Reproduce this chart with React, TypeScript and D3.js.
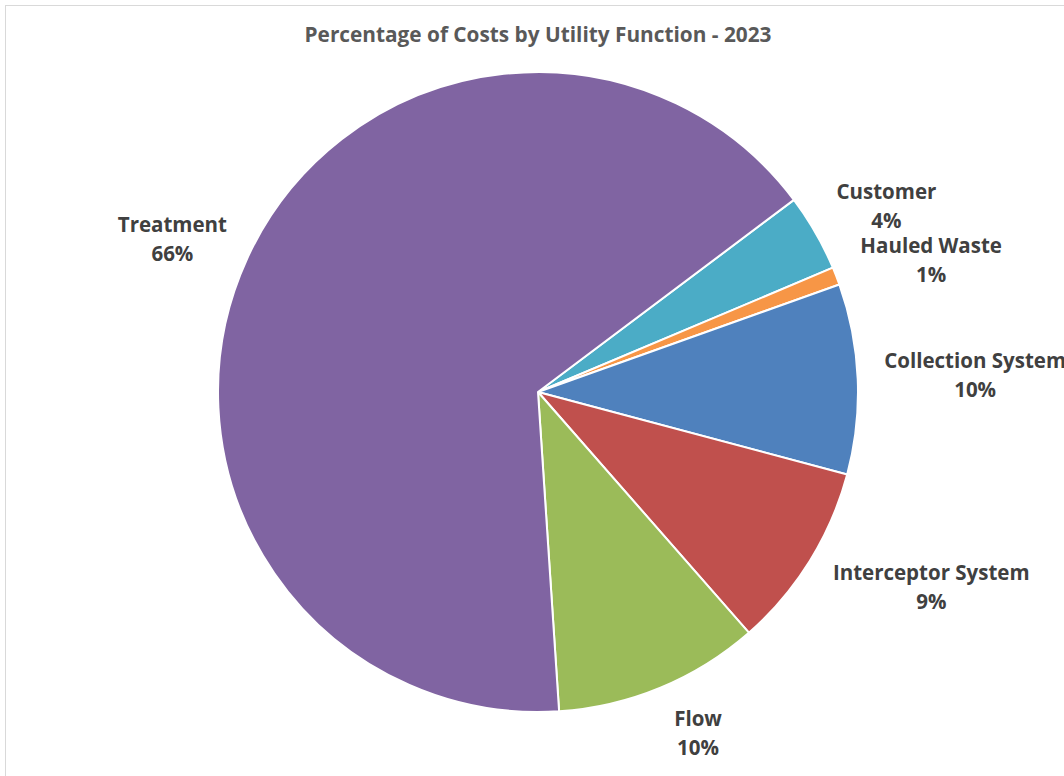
import React from "react";
import * as d3 from "d3";

const categories = ["Customer", "Hauled Waste", "Collection System", "Interceptor System", "Flow", "Treatment"];
const values = [3.9, 0.9, 9.6, 9.4, 10.4, 65.8];
const colors = ["#4BACC6", "#F79646", "#4F81BD", "#C0504D", "#9BBB59", "#8064A2"];
const title = "Percentage of Costs by Utility Function - 2023";

// layout-only label nudges (dx, dy) mimicking the spreadsheet's best-fit placement
const labelNudge: [number, number][] = [[12, 1], [11, 4], [0, -1], [17, -1], [20, -4], [-8, 4]];

const W = 1064;
const H = 776;
const cx = 538;
const cy = 392;
const R = 320;
const START_DEG = 53.1;

export default function App() {
  const pie = d3
    .pie<number>()
    .sort(null)
    .value((d) => d)
    .startAngle((START_DEG * Math.PI) / 180)
    .endAngle((START_DEG * Math.PI) / 180 + 2 * Math.PI);
  const arcs = pie(values);
  const arcGen = d3.arc<d3.PieArcDatum<number>>().innerRadius(0).outerRadius(R);
  const total = d3.sum(values);
  const fontSize = 20.5;
  const charW = 11;
  const gap = 24;

  return (
    <svg
      width={W}
      height={H}
      style={{ position: "absolute", left: 0, top: 0, background: "#fff" }}
      fontFamily="'Open Sans', Lato, sans-serif"
    >
      <rect x={0} y={0} width={W} height={H} fill="#fff" />
      <rect x={5.5} y={5.5} width={W + 20} height={H + 20} fill="#fff" stroke="#d9d9d9" strokeWidth={1} />
      <text x={cx} y={42} textAnchor="middle" fontSize={20.8} fontWeight={700} fill="#595959">
        {title}
      </text>
      <g transform={`translate(${cx},${cy})`}>
        {arcs.map((a, i) => (
          <path key={i} d={arcGen(a) || ""} fill={colors[i]} stroke="#fff" strokeWidth={2} strokeLinejoin="round" />
        ))}
      </g>
      {arcs.map((a, i) => {
        const mid = (a.startAngle + a.endAngle) / 2;
        const s = Math.sin(mid);
        const c = -Math.cos(mid);
        const pct = Math.round((values[i] / total) * 100) + "%";
        const w = Math.max(categories[i].length, pct.length) * charW;
        const h = 60;
        const ax = cx + (R + gap) * s;
        const ay = cy + (R + gap) * c;
        const bx = ax + (w / 2) * s + labelNudge[i][0];
        const by = ay + (h / 2) * c + labelNudge[i][1];
        return (
          <text key={i} textAnchor="middle" fontSize={fontSize} fontWeight={700} fill="#404040">
            <tspan x={bx} y={by - 8}>
              {categories[i]}
            </tspan>
            <tspan x={bx} y={by + 21}>
              {pct}
            </tspan>
          </text>
        );
      })}
    </svg>
  );
}
